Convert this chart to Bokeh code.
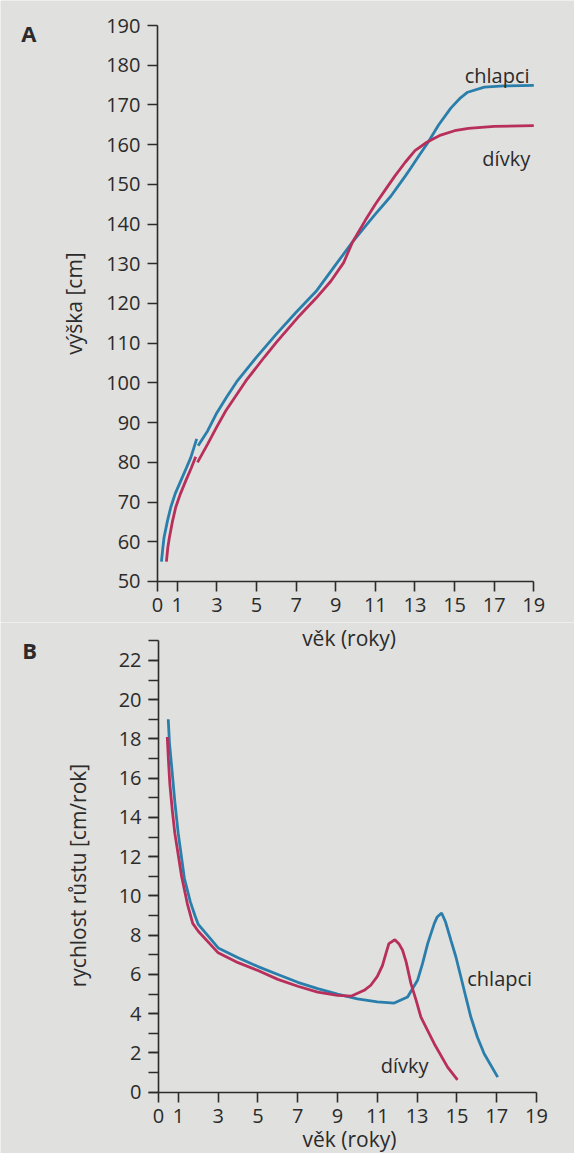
import math
from bokeh.plotting import figure
from bokeh.layouts import column
from bokeh.models import Range1d, FixedTicker, SingleIntervalTicker, Label
from bokeh.embed import file_html
from bokeh.resources import INLINE

# ---------------- data: panel A (height, cm) ----------------
boys_inf_age = [0.2, 0.27, 0.33, 0.5, 0.67, 0.9, 1.18, 1.45, 1.68, 1.98]
boys_inf_len = [55, 58.5, 61.1, 65.2, 68.7, 72.2, 75.4, 78.5, 81.2, 85.9]
boys_age = [2.05, 2.53, 3.0, 3.5, 4.0, 5.0, 6.0, 7.0, 8.0, 9.0, 9.85, 10.5, 11.0,
            11.78, 12.5, 12.79, 13.2, 13.64, 14.2, 14.81, 15.3, 15.66, 16.5, 17.5, 19.0]
boys_height = [84.2, 87.9, 92.5, 96.5, 100.3, 106.5, 112.3, 117.8, 123.0, 129.8, 135.5,
               139.5, 142.5, 147.0, 152.0, 154.1, 157.2, 160.4, 165.0, 169.2, 171.8,
               173.2, 174.5, 174.8, 174.9]
girls_inf_age = [0.45, 0.52, 0.6, 0.75, 0.92, 1.15, 1.43, 1.7, 1.93]
girls_inf_len = [55, 58.5, 61.1, 65.0, 68.7, 72.0, 75.4, 78.5, 81.4]
girls_age = [2.02, 2.53, 3.0, 3.45, 4.46, 5.38, 6.0, 7.07, 8.0, 8.75, 9.4, 9.85, 10.5,
             11.0, 11.5, 12.0, 12.5, 13.0, 13.6, 14.3, 15.0, 15.7, 17.0, 19.0]
girls_height = [80.0, 84.6, 89.0, 93.0, 100.5, 106.4, 110.2, 116.4, 121.3, 125.6, 130.3,
                135.5, 141.0, 145.0, 148.6, 152.2, 155.5, 158.5, 160.6, 162.4, 163.5,
                164.1, 164.6, 164.8]

# ---------------- data: panel B (growth velocity, cm/year) ----------------
boys_v_age = [0.49, 0.55, 0.66, 0.82, 0.99, 1.3, 1.6, 1.83, 2.0, 3.0, 4.0, 5.0, 6.0, 7.0,
              8.0, 9.0, 10.0, 11.0, 11.85, 12.52, 13.02, 13.27, 13.53, 13.86, 14.01, 14.23,
              14.43, 14.7, 14.95, 15.2, 15.45, 15.7, 16.03, 16.37, 17.05]
boys_v = [19.0, 17.8, 16.6, 14.8, 13.2, 10.9, 9.7, 9.0, 8.55, 7.35, 6.85, 6.4, 6.0, 5.6,
          5.28, 5.0, 4.75, 4.6, 4.54, 4.85, 5.7, 6.55, 7.57, 8.59, 8.93, 9.13,
          8.67, 7.74, 6.89, 5.87, 4.84, 3.83, 2.8, 1.96, 0.77]
girls_v_age = [0.44, 0.5, 0.57, 0.7, 0.82, 1.16, 1.45, 1.72, 2.0, 3.0, 4.0, 5.0, 6.0, 7.0,
               8.0, 9.0, 9.7, 10.34, 10.67, 11.0, 11.26, 11.43, 11.58, 11.88, 12.08, 12.27,
               12.45, 12.69, 12.95, 13.19, 13.86, 14.53, 15.03]
girls_v = [18.1, 16.9, 15.7, 14.3, 13.2, 11.0, 9.6, 8.6, 8.2, 7.1, 6.6, 6.2, 5.75, 5.4,
           5.1, 4.93, 4.9, 5.19, 5.45, 5.9, 6.46, 7.06, 7.57, 7.77, 7.57, 7.23,
           6.63, 5.53, 4.68, 3.83, 2.47, 1.28, 0.63]

x_ticks = [0, 1, 3, 5, 7, 9, 11, 13, 15, 17, 19]

BG = "#e0e0de"
BLUE = "#2a7eab"
RED = "#b82f5b"
INK = "#2b2b2b"
FONT = "Open Sans"


def style_axes(p, x_at, y_bounds):
    for ax in (p.xaxis[0], p.yaxis[0]):
        ax.axis_line_color = INK
        ax.axis_line_width = 1.6
        ax.major_tick_line_color = INK
        ax.major_tick_line_width = 1.6
        ax.minor_tick_line_color = INK
        ax.minor_tick_line_width = 1.6
        ax.major_tick_in = 0
        ax.major_tick_out = 10
        ax.minor_tick_in = 0
        ax.minor_tick_out = 10
        ax.major_label_text_font = FONT
        ax.major_label_text_font_size = "20px"
        ax.major_label_text_color = INK
        ax.major_label_standoff = 7
    p.xgrid.visible = False
    p.ygrid.visible = False
    p.xaxis.ticker = FixedTicker(ticks=x_ticks, minor_ticks=[])
    p.xaxis.fixed_location = x_at
    p.xaxis.bounds = (0, 19)
    p.yaxis.fixed_location = 0
    p.yaxis.bounds = y_bounds


def txt(text, x, y, size="20px", style="normal", align="center",
        baseline="alphabetic", angle=0.0):
    return Label(x=x, y=y, text=text, angle=angle,
                 text_font=FONT, text_font_size=size, text_font_style=style,
                 text_color=INK, text_align=align, text_baseline=baseline)


common = dict(output_backend="svg", toolbar_location=None,
              min_border_left=0, min_border_right=0, min_border_top=0,
              min_border_bottom=0, background_fill_color=BG, border_fill_color=BG,
              outline_line_color=None)

# ---------------- panel A ----------------
pA = figure(width=574, height=622, x_range=Range1d(-7.927, 21.055),
            y_range=Range1d(39.676, 196.295), **common)
style_axes(pA, 50, (50, 190))
pA.yaxis.ticker = SingleIntervalTicker(interval=10, num_minor_ticks=0)

pA.line(boys_inf_age, boys_inf_len, line_color=BLUE, line_width=2.8)
pA.line(boys_age, boys_height, line_color=BLUE, line_width=2.8)
pA.line(girls_inf_age, girls_inf_len, line_color=RED, line_width=2.8)
pA.line(girls_age, girls_height, line_color=RED, line_width=2.8)

pA.add_layout(txt("chlapci", 17.15, 177.4))
pA.add_layout(txt("dívky", 17.61, 156.6))
pA.add_layout(txt("A", -6.49, 188.0, size="22px", style="bold", baseline="middle"))
pA.add_layout(txt("výška [cm]", -4.24, 120.0, size="21px", baseline="middle",
                  angle=math.pi / 2))

# ---------------- panel B ----------------
pB = figure(width=574, height=531, x_range=Range1d(-7.942, 20.910),
            y_range=Range1d(-3.123, 23.932), **common)
style_axes(pB, 0, (0, 23))
pB.yaxis.ticker = SingleIntervalTicker(interval=2, num_minor_ticks=2)

pB.line(boys_v_age, boys_v, line_color=BLUE, line_width=2.8)
pB.line(girls_v_age, girls_v, line_color=RED, line_width=2.8)

pB.add_layout(txt("chlapci", 15.52, 5.78, align="left"))
pB.add_layout(txt("dívky", 12.37, 1.36))
pB.add_layout(txt("B", -6.48, 22.55, size="22px", style="bold", baseline="middle"))
pB.add_layout(txt("rychlost růstu [cm/rok]", -4.07, 11.04, size="21px",
                  baseline="middle", angle=math.pi / 2))
# x-axis titles (panel A's title sits in the band just above panel B)
pB.add_layout(txt("věk (roky)", 9.58, 23.12, size="21px", baseline="middle"))
pB.add_layout(txt("věk (roky)", 9.60, -2.36, size="21px", baseline="middle"))

layout = column(pA, pB, spacing=0)
open("out.html", "w").write(file_html(layout, INLINE))
